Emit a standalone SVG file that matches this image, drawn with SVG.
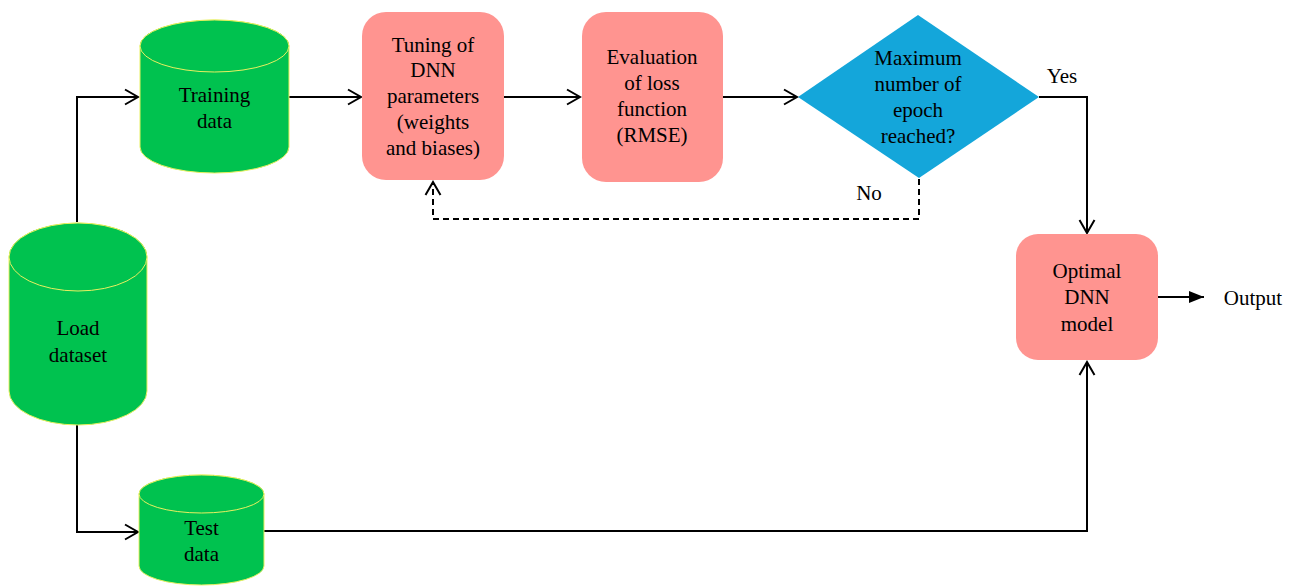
<svg xmlns="http://www.w3.org/2000/svg" width="1293" height="587" viewBox="0 0 1293 587" font-family="'Liberation Serif', 'Times New Roman', serif" font-size="21">
<style>
.cyl{fill:#00C24F;stroke:#E8F060;stroke-width:1}
.box{fill:#FF9490;stroke:none}
.dia{fill:#14A6DA;stroke:none}
text{font-family:'Liberation Serif','Times New Roman',serif;font-size:21px;fill:#000;text-anchor:middle}
.ln{fill:none;stroke:#000;stroke-width:2}
.dash{fill:none;stroke:#000;stroke-width:2;stroke-dasharray:6,4}
</style>
<defs>
<marker id="open" markerUnits="userSpaceOnUse" markerWidth="16" markerHeight="18" refX="14" refY="9" orient="auto">
<path d="M1,1.5 L14,9 L1,16.5" fill="none" stroke="#000" stroke-width="2"/>
</marker>
<marker id="fill" markerUnits="userSpaceOnUse" markerWidth="16" markerHeight="14" refX="15" refY="7" orient="auto">
<path d="M0,1 L15,7 L0,13 Z" fill="#000"/>
</marker>
</defs>
<g id="connectors">
<path class="ln" d="M77,222 V97 H138" marker-end="url(#open)"/>
<path class="ln" d="M77,425 V532 H138" marker-end="url(#open)"/>
<path class="ln" d="M289,97 H361" marker-end="url(#open)"/>
<path class="ln" d="M504,97 H580" marker-end="url(#open)"/>
<path class="ln" d="M723,97 H797" marker-end="url(#open)"/>
<path class="ln" d="M1039,97 H1087 V233" marker-end="url(#open)"/>
<path class="ln" d="M264,531 H1087 V362" marker-end="url(#open)"/>
<path class="dash" d="M919,179 V219 H433 V182" marker-end="url(#open)"/>
<path class="ln" d="M1158,297 H1204" marker-end="url(#fill)"/>
</g>
<g id="load">
<path class="cyl" d="M9,257 V391 A69,34 0 0 0 147,391 V257 A69,34 0 0 0 9,257 Z"/>
<ellipse class="cyl" cx="78" cy="257" rx="69" ry="34"/>
<text x="78" y="335">Load</text>
<text x="78" y="362">dataset</text>
</g>
<g id="training">
<path class="cyl" d="M140,46 V147 A74.5,26 0 0 0 289,147 V46 A74.5,26 0 0 0 140,46 Z"/>
<ellipse class="cyl" cx="214.5" cy="46" rx="74.5" ry="26"/>
<text x="214.5" y="102">Training</text>
<text x="214.5" y="128">data</text>
</g>
<g id="test">
<path class="cyl" d="M139,494 V566 A62.5,19 0 0 0 264,566 V494 A62.5,19 0 0 0 139,494 Z"/>
<ellipse class="cyl" cx="201.5" cy="494" rx="62.5" ry="19"/>
<text x="201.5" y="535">Test</text>
<text x="201.5" y="561">data</text>
</g>
<g id="tuning">
<rect class="box" x="362" y="12" width="142" height="168" rx="24"/>
<text x="433" y="52">Tuning of</text>
<text x="433" y="77">DNN</text>
<text x="433" y="103">parameters</text>
<text x="433" y="129">(weights</text>
<text x="433" y="155">and biases)</text>
</g>
<g id="evaluation">
<rect class="box" x="582" y="12" width="141" height="170" rx="24"/>
<text x="652" y="64">Evaluation</text>
<text x="652" y="90">of loss</text>
<text x="652" y="116">function</text>
<text x="652" y="142">(RMSE)</text>
</g>
<g id="decision">
<polygon class="dia" points="918,15 1039,97 919,178 798,97"/>
<text x="918" y="65">Maximum</text>
<text x="918" y="91">number of</text>
<text x="918" y="117">epoch</text>
<text x="918" y="143">reached?</text>
</g>
<g id="optimal">
<rect class="box" x="1016" y="234" width="142" height="126" rx="22"/>
<text x="1087" y="278">Optimal</text>
<text x="1087" y="304">DNN</text>
<text x="1087" y="331">model</text>
</g>
<g id="labels">
<text x="1062" y="83">Yes</text>
<text x="869" y="200">No</text>
<text x="1253" y="305">Output</text>
</g>
</svg>
